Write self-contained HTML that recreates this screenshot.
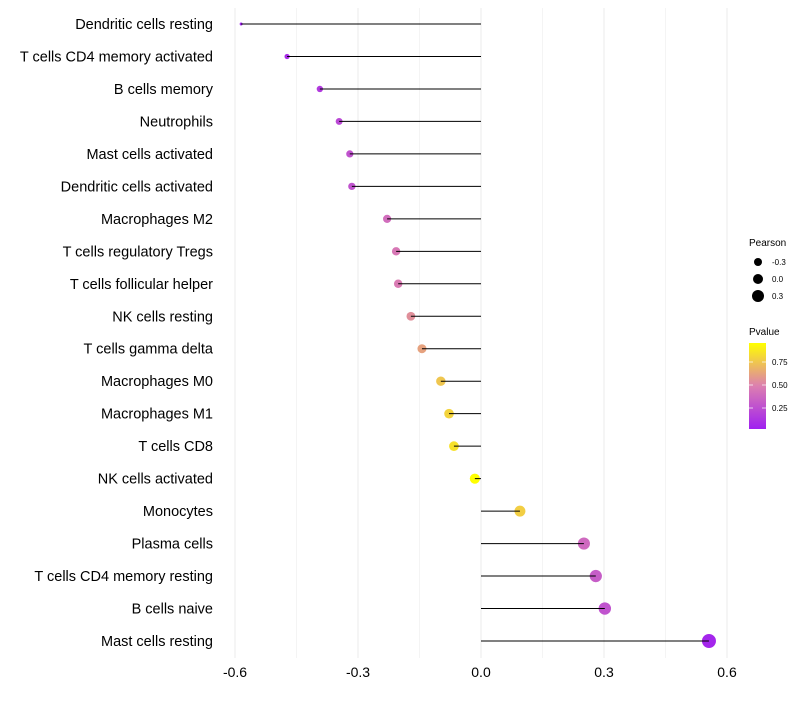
<!DOCTYPE html>
<html><head><meta charset="utf-8"><style>
body{margin:0;background:#fff;font-family:"Liberation Sans",sans-serif;}
</style></head><body>
<svg id="c" width="800" height="700">
<defs>
<linearGradient id="pg" x1="0" y1="1" x2="0" y2="0">
<stop offset="0" stop-color="#a020f0"/><stop offset="0.5" stop-color="#dc7fb0"/><stop offset="1" stop-color="#ffff00"/>
</linearGradient>
</defs>
<g id="grid"></g><g id="marks"></g><g id="stems"></g><g id="labels"></g>
<g font-size="10" fill="#000">
<text x="749" y="246">Pearson</text>
<circle cx="758" cy="262" r="4" fill="#000"/><text x="772" y="265" font-size="8">-0.3</text>
<circle cx="758" cy="279" r="5" fill="#000"/><text x="772" y="282" font-size="8">0.0</text>
<circle cx="758" cy="296" r="6" fill="#000"/><text x="772" y="299" font-size="8">0.3</text>
<text x="749" y="335">Pvalue</text>
<rect x="749" y="343" width="17" height="86" fill="url(#pg)"/>
<g stroke="#fff" stroke-width="1" opacity="0.7"><line x1="749" x2="753" y1="362" y2="362"/><line x1="762" x2="766" y1="362" y2="362"/><line x1="749" x2="753" y1="385" y2="385"/><line x1="762" x2="766" y1="385" y2="385"/><line x1="749" x2="753" y1="408" y2="408"/><line x1="762" x2="766" y1="408" y2="408"/></g>
<text x="772" y="365" font-size="8">0.75</text><text x="772" y="388" font-size="8">0.50</text><text x="772" y="411" font-size="8">0.25</text>
</g>
</svg>
<script>
const categories=["Dendritic cells resting","T cells CD4 memory activated","B cells memory","Neutrophils","Mast cells activated","Dendritic cells activated","Macrophages M2","T cells regulatory  Tregs","T cells follicular helper","NK cells resting","T cells gamma delta","Macrophages M0","Macrophages M1","T cells CD8","NK cells activated","Monocytes","Plasma cells","T cells CD4 memory resting","B cells naive","Mast cells resting"];
const pearson=[-0.585,-0.473,-0.393,-0.346,-0.320,-0.315,-0.229,-0.207,-0.202,-0.171,-0.144,-0.098,-0.078,-0.066,-0.015,0.095,0.251,0.280,0.302,0.556];
const pvalue=[0.02,0.08,0.15,0.22,0.27,0.27,0.4,0.45,0.47,0.55,0.62,0.75,0.8,0.85,0.96,0.78,0.38,0.32,0.27,0.05];
const xTicks=[-0.6,-0.3,0,0.3,0.6];
const xTickLabels=["-0.6","-0.3","0.0","0.3","0.6"];
const NS="http://www.w3.org/2000/svg";
const xs=v=>481+v*410;
const ys=i=>24+i*(641-24)/(categories.length-1);
const rs=v=>Math.sqrt(Math.max(2.25,26.2+41*v));
function mk(t,a,p){const e=document.createElementNS(NS,t);for(const k in a)e.setAttribute(k,a[k]);p.appendChild(e);return e;}
function lerp(a,b,t){return a.map((v,i)=>Math.round(v+(b[i]-v)*t));}
function col(p){const t=Math.max(0,Math.min(1,(p-0.02)/(0.96-0.02)));const c0=[160,32,240],c1=[220,127,176],c2=[255,255,0];const c=t<0.5?lerp(c0,c1,t*2):lerp(c1,c2,(t-0.5)*2);return `rgb(${c})`;}
const g=document.getElementById('grid'),m=document.getElementById('marks'),st=document.getElementById('stems'),l=document.getElementById('labels');
for(let v=-0.75;v<=0.76;v+=0.15){const x=xs(v);if(x<222||x>745)continue;const major=xTicks.some(t=>Math.abs(t-v)<1e-6);
const ln=mk('line',{x1:x,x2:x,y1:8,y2:658,stroke:major?'#ebebeb':'#f4f4f4','stroke-width':1},g);

}
xTicks.forEach((v,i)=>{const t=mk('text',{x:xs(v),y:677,'text-anchor':'middle','font-size':14,fill:'#000'},l);t.textContent=xTickLabels[i];

});
categories.forEach((c,i)=>{const y=ys(i);
const t=mk('text',{x:213,y:y+5,'text-anchor':'end','font-size':14.5,fill:'#000'},l);t.textContent=c;


const d=mk('circle',{cx:xs(pearson[i]),cy:y,r:rs(pearson[i]),fill:col(pvalue[i])},m);


const s=mk('line',{x1:xs(0),x2:xs(pearson[i]),y1:y,y2:y,stroke:'#000','stroke-width':1},st);

});
</script>
</body></html>
